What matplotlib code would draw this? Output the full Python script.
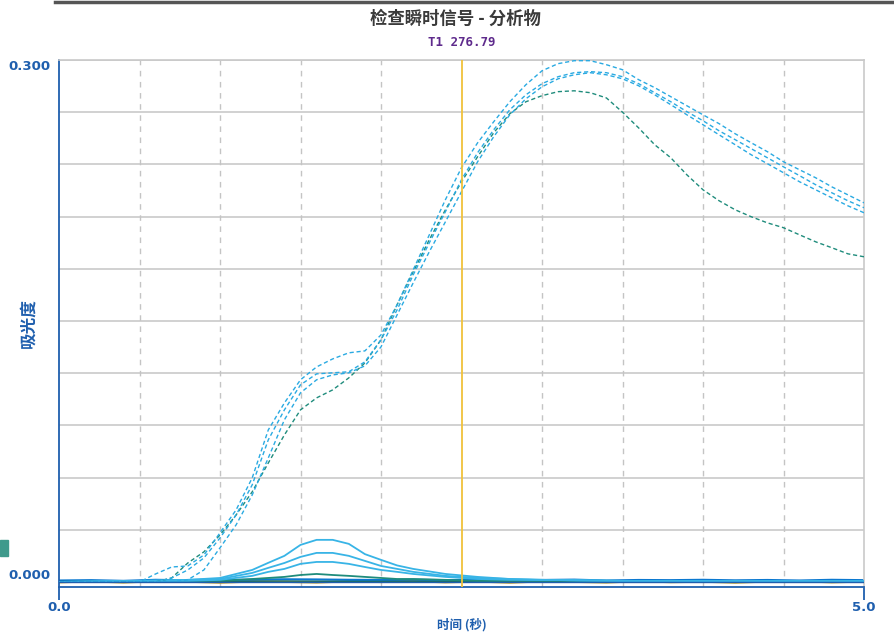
import matplotlib
matplotlib.use("Agg")
import matplotlib.pyplot as plt
from matplotlib.patches import Rectangle
from matplotlib.lines import Line2D

plt.rcParams['font.family'] = ['Noto Sans CJK SC', 'DejaVu Sans']

# ---------------- data ----------------
t_dash = [round(0.1 * i, 1) for i in range(51)]

dash_a = [0, 0, 0, 0, 0, 0, 0.0046, 0.0086, 0.0092, 0.0155,
          0.0282, 0.0414, 0.0598, 0.0874, 0.1029, 0.1162, 0.1236, 0.1282, 0.1317, 0.1328,
          0.1420, 0.1593, 0.1794, 0.1995, 0.2197, 0.2381, 0.2524, 0.2645, 0.2760, 0.2858,
          0.2938, 0.2979, 0.2996, 0.2996, 0.2973, 0.2944, 0.2887, 0.2841, 0.2789, 0.2737,
          0.2685, 0.2634, 0.2576, 0.2524, 0.2473, 0.2415, 0.2369, 0.2323, 0.2271, 0.2225,
          0.2179]
dash_b = [0, 0, 0, 0, 0, 0, 0, 0.0023, 0.0069, 0.0138,
          0.0253, 0.0385, 0.0558, 0.0817, 0.0989, 0.1133, 0.1196, 0.1202, 0.1208, 0.1265,
          0.1392, 0.1564, 0.1765, 0.1949, 0.2128, 0.2312, 0.2467, 0.2599, 0.2714, 0.2800,
          0.2864, 0.2904, 0.2927, 0.2933, 0.2927, 0.2904, 0.2864, 0.2812, 0.2760, 0.2703,
          0.2651, 0.2593, 0.2542, 0.2490, 0.2438, 0.2386, 0.2335, 0.2283, 0.2237, 0.2191,
          0.2151]
dash_c = [0, 0, 0, 0, 0, 0, 0, 0, 0.0012, 0.0069,
          0.0196, 0.0328, 0.0500, 0.0713, 0.0932, 0.1087, 0.1162, 0.1190, 0.1202, 0.1242,
          0.1351, 0.1535, 0.1719, 0.1898, 0.2070, 0.2243, 0.2415, 0.2559, 0.2685, 0.2777,
          0.2846, 0.2892, 0.2915, 0.2927, 0.2915, 0.2892, 0.2852, 0.2800, 0.2743, 0.2685,
          0.2628, 0.2570, 0.2513, 0.2455, 0.2404, 0.2352, 0.2300, 0.2254, 0.2208, 0.2162,
          0.2122]
dash_d = [0, 0, 0, 0, 0, 0, 0, 0.0023, 0.0109, 0.0173,
          0.0270, 0.0385, 0.0518, 0.0684, 0.0845, 0.0989, 0.1058, 0.1104, 0.1173, 0.1259,
          0.1392, 0.1593, 0.1783, 0.1967, 0.2139, 0.2300, 0.2444, 0.2582, 0.2691, 0.2760,
          0.2795, 0.2818, 0.2823, 0.2812, 0.2782, 0.2700, 0.2610, 0.2513, 0.2438, 0.2340,
          0.2254, 0.2191, 0.2139, 0.2099, 0.2064, 0.2036, 0.1995, 0.1955, 0.1921, 0.1886,
          0.1869]

t_solid = [0.0, 0.5, 0.8, 1.0, 1.2, 1.3, 1.4, 1.5, 1.6, 1.7, 1.8, 1.9, 2.0, 2.1, 2.2, 2.4,
           2.6, 2.8, 3.0, 3.5, 4.0, 5.0]
solid_1 = [0, 0.0006, 0.0012, 0.0023, 0.0069, 0.0110, 0.0150, 0.0213, 0.0242, 0.0242, 0.0219,
           0.0160, 0.0127, 0.0095, 0.0075, 0.0046, 0.0029, 0.0017, 0.0012, 0.0006, 0.0006, 0.0006]
solid_2 = [0, 0.0006, 0.0012, 0.0017, 0.0052, 0.0081, 0.0109, 0.0144, 0.0167, 0.0167, 0.0150,
           0.0121, 0.0092, 0.0075, 0.0058, 0.0035, 0.0023, 0.0017, 0.0012, 0.0006, 0.0006, 0.0006]
solid_3 = [0, 0.0006, 0.0006, 0.0012, 0.0035, 0.0058, 0.0075, 0.0104, 0.0115, 0.0115, 0.0104,
           0.0086, 0.0069, 0.0058, 0.0046, 0.0029, 0.0017, 0.0012, 0.0012, 0.0006, 0.0006, 0.0006]
solid_4 = [0, 0, 0.0006, 0.0006, 0.0017, 0.0023, 0.0029, 0.0040, 0.0046, 0.0040, 0.0035,
           0.0029, 0.0023, 0.0017, 0.0017, 0.0012, 0.0006, 0.0006, 0.0006, 0.0006, 0.0006, 0.0006]

t_base = [round(0.2 * i, 1) for i in range(26)]
base_blue = [0.0008, 0.0010, 0.0006, 0.0012, 0.0009, 0.0011, 0.0013, 0.0015, 0.0014, 0.0012,
             0.0011, 0.0013, 0.0010, 0.0012, 0.0009, 0.0011, 0.0013, 0.0008, 0.0011, 0.0010,
             0.0012, 0.0009, 0.0011, 0.0008, 0.0012, 0.0010]
base_yellow = [-0.0002, 0.0004, -0.0003, 0.0005, 0.0002, -0.0004, 0.0003, 0.0001, -0.0003, 0.0004,
               0.0000, 0.0005, -0.0002, 0.0003, -0.0004, 0.0004, 0.0001, -0.0003, 0.0005, -0.0001,
               0.0002, -0.0004, 0.0003, 0.0005, -0.0002, 0.0003]
base_green = [0.0002, 0.0003, 0.0001, 0.0004, 0.0003, 0.0002, 0.0004, 0.0005, 0.0004, 0.0003,
              0.0003, 0.0004, 0.0002, 0.0003, 0.0002, 0.0003, 0.0004, 0.0002, 0.0003, 0.0002,
              0.0003, 0.0002, 0.0003, 0.0002, 0.0003, 0.0002]

cursor_t = 2.5
cursor_label = "T1 276.79"
title = "检查瞬时信号 - 分析物"
xlabel = "时间 (秒)"
ylabel = "吸光度"
xtick_vals = [0.0, 5.0]
xtick_labels = ["0.0", "5.0"]
ytick_vals = [0.0, 0.3]
ytick_labels = ["0.000", "0.300"]

# ---------------- styles ----------------
LIGHT = '#2aaae2'
TEAL = '#1f8c7c'
SOLID = '#38b4e6'
BLUE = '#0a78d0'
YEL = '#d6a51e'
AXBLUE = '#1f5fae'

fig = plt.figure(figsize=(8.95, 6.38), dpi=100)
ax = fig.add_axes([59 / 895, 1 - 587 / 638, (864 - 59) / 895, (587 - 60) / 638])

ax.set_xlim(0, 5)
ax.set_ylim(-0.0029, 0.300)

# grid
for yv in [0.03 * k for k in range(1, 11)]:
    ax.axhline(yv, color='#c9c9c9', lw=1.2, zorder=0)
for xv in [0.5 * k for k in range(1, 10)]:
    if abs(xv - cursor_t) > 1e-6:
        ax.axvline(xv, color='#c4c4c4', lw=1.0, ls=(0, (4, 4)), zorder=0)

# baselines
ax.plot(t_base, base_yellow, color=YEL, lw=1.6, zorder=2)
ax.plot(t_base, base_blue, color=BLUE, lw=1.6, zorder=2)
ax.plot(t_base, base_green, color='#1c6e5e', lw=1.0, zorder=2)

# solid curves
ax.plot(t_solid, solid_4, color=TEAL, lw=1.3, zorder=3)
ax.plot(t_solid, solid_3, color=SOLID, lw=1.3, zorder=3)
ax.plot(t_solid, solid_2, color=SOLID, lw=1.3, zorder=3)
ax.plot(t_solid, solid_1, color=SOLID, lw=1.3, zorder=3)

# dashed curves
dash = (0, (3, 2))
ax.plot(t_dash, dash_d, color=TEAL, lw=1.0, ls=dash, zorder=4)
ax.plot(t_dash, dash_c, color=LIGHT, lw=1.0, ls=dash, zorder=4)
ax.plot(t_dash, dash_b, color=LIGHT, lw=1.0, ls=dash, zorder=4)
ax.plot(t_dash, dash_a, color=LIGHT, lw=1.0, ls=dash, zorder=4)

# zero line
ax.axhline(0, color=AXBLUE, lw=1.0, zorder=5)

# cursor
ax.axvline(cursor_t, color='#f0c23a', lw=1.3, zorder=6)
ax.text(cursor_t, 1.02, cursor_label, transform=ax.get_xaxis_transform(),
        ha='center', va='bottom', color='#5e2a8c', fontsize=9, fontweight='bold',
        family=['DejaVu Sans Mono'])

# spines
for s in ['top', 'right']:
    ax.spines[s].set_color('#c9c9c9')
    ax.spines[s].set_linewidth(1.2)
ax.spines['left'].set_color(AXBLUE)
ax.spines['left'].set_linewidth(1.3)
ax.spines['bottom'].set_color(AXBLUE)
ax.spines['bottom'].set_linewidth(1.3)

ax.set_xticks(xtick_vals)
ax.set_xticklabels(xtick_labels)
ax.set_yticks(ytick_vals)
ax.set_yticklabels(ytick_labels)
ax.tick_params(axis='x', colors=AXBLUE, length=9, width=1.3, labelsize=9.5, pad=1)
ax.tick_params(axis='y', colors=AXBLUE, length=0, labelsize=9.5, pad=6)
for lab in ax.get_xticklabels() + ax.get_yticklabels():
    lab.set_fontweight('bold')
    lab.set_family(['DejaVu Sans'])
    lab.set_color(AXBLUE)
ax.get_yticklabels()[1].set_va('top')
ax.get_yticklabels()[0].set_va('bottom')

ax.set_xlabel(xlabel, color=AXBLUE, fontsize=9, fontweight='bold')
ax.xaxis.set_label_coords(0.5, -0.058)
ax.set_ylabel(ylabel, color=AXBLUE, fontsize=12, fontweight='bold')
ax.yaxis.set_label_coords(-22 / 805, 0.5)

fig.text(455 / 895, 1 - 19 / 638, title, ha='center', va='center', fontsize=12.5,
         fontweight='bold', color='#3a3a3a')

# decorations
fig.add_artist(Line2D([55 / 895, 1.0], [1 - 1.5 / 638, 1 - 1.5 / 638], color='#555555', lw=2.5))
fig.add_artist(Rectangle((0, 1 - 556 / 638), 8 / 895, 16 / 638, color='#3f9a8c',
                         transform=fig.transFigure))

fig.savefig('out.png', dpi=100)
